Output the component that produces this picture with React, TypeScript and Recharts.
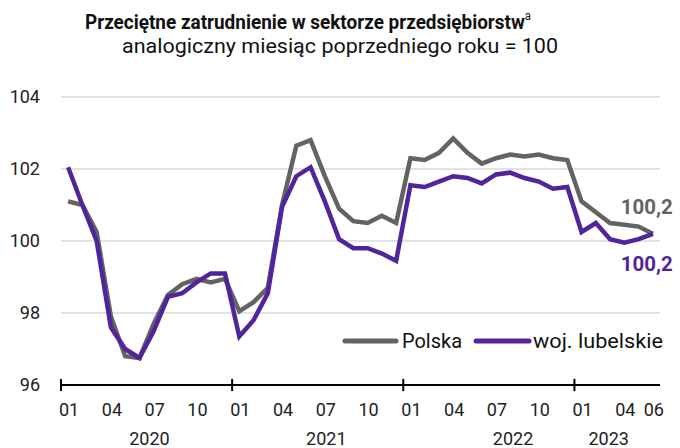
import * as React from "react";
import { CartesianGrid, Line, LineChart, ReferenceLine, XAxis, YAxis } from "recharts";

const periods = [
  "2020-01", "2020-02", "2020-03", "2020-04", "2020-05", "2020-06", "2020-07", "2020-08", "2020-09", "2020-10", "2020-11", "2020-12",
  "2021-01", "2021-02", "2021-03", "2021-04", "2021-05", "2021-06", "2021-07", "2021-08", "2021-09", "2021-10", "2021-11", "2021-12",
  "2022-01", "2022-02", "2022-03", "2022-04", "2022-05", "2022-06", "2022-07", "2022-08", "2022-09", "2022-10", "2022-11", "2022-12",
  "2023-01", "2023-02", "2023-03", "2023-04", "2023-05", "2023-06",
];

const polska = [
  101.1, 101.0, 100.25, 97.9, 96.8, 96.75, 97.7, 98.5, 98.8, 98.95, 98.85, 98.95,
  98.05, 98.3, 98.7, 101.0, 102.65, 102.8, 101.8, 100.9, 100.55, 100.5, 100.7, 100.5,
  102.3, 102.25, 102.45, 102.85, 102.45, 102.15, 102.3, 102.4, 102.35, 102.4, 102.3, 102.25,
  101.1, 100.8, 100.5, 100.45, 100.4, 100.2,
];

const lubelskie = [
  102.05, 101.0, 100.0, 97.6, 97.0, 96.75, 97.5, 98.45, 98.55, 98.85, 99.1, 99.1,
  97.35, 97.8, 98.55, 100.95, 101.8, 102.05, 101.1, 100.05, 99.8, 99.8, 99.65, 99.45,
  101.55, 101.5, 101.65, 101.8, 101.75, 101.6, 101.85, 101.9, 101.75, 101.65, 101.45, 101.5,
  100.25, 100.5, 100.05, 99.95, 100.05, 100.2,
];

const seriesNames = ["Polska", "woj. lubelskie"];
const years = ["2020", "2021", "2022", "2023"];
const yearLabelAt = [5.7, 18.1, 31.2, 37.9];
const yearBounds = [-0.5, 11.5, 23.5, 35.5];
const xTicks = [0, 3, 6, 9, 12, 15, 18, 21, 24, 27, 30, 33, 36, 39, 41];
const yTicks = [96, 98, 100, 102, 104];

const GRAY = "#636363";
const PURPLE = "#52249B";
const FONT = "Roboto, 'Noto Sans', sans-serif";

const data = periods.map((p, i) => ({ i, period: p, polska: polska[i], lubelskie: lubelskie[i] }));

function endLabel(color: string, dy: number) {
  return (props: any) => {
    if (props.index !== data.length - 1) return null;
    return (
      <text
        x={props.x + 20}
        y={props.y + dy}
        textAnchor="end"
        fill={color}
        fontFamily={FONT}
        fontWeight={700}
        fontSize={20}
        textLength={52}
        lengthAdjust="spacingAndGlyphs"
      >
        {Number(props.value).toFixed(1).replace(".", ",")}
      </text>
    );
  };
}

export default function App() {
  return (
    <div style={{ position: "absolute", left: 0, top: 0, width: 680, height: 448, background: "#fff", fontFamily: FONT }}>
      <LineChart
        width={680}
        height={448}
        data={data}
        margin={{ top: 97, right: 20, bottom: 0, left: 0 }}
      >
        <CartesianGrid horizontal vertical={false} stroke="#d9d9d9" strokeWidth={1.5} />
        <YAxis
          domain={[96, 104]}
          ticks={yTicks}
          width={61}
          axisLine={false}
          tickLine={false}
          tick={(p: any) => (
            <text x={40} y={p.y + 6} textAnchor="end" fontFamily={FONT} fontSize={18} fill="#222">
              {p.payload.value}
            </text>
          )}
        />
        <XAxis
          dataKey="i"
          type="number"
          domain={[-0.5, 41.5]}
          ticks={xTicks}
          interval={0}
          height={63}
          tickSize={0}
          tickMargin={0}
          axisLine={{ stroke: "#000", strokeWidth: 2 }}
          tickLine={false}
          tick={(p: any) => (
            <text x={p.x + 1} y={p.y + 31} textAnchor="middle" fontFamily={FONT} fontSize={18} fill="#222">
              {periods[p.payload.value].slice(5)}
            </text>
          )}
        />
        {yearBounds.map((b) => (
          <ReferenceLine
            key={b}
            segment={[{ x: b, y: 95.83 }, { x: b, y: 96.17 }]}
            stroke="#000"
            strokeWidth={2}
            ifOverflow="visible"
          />
        ))}
        {years.map((y, k) => (
          <ReferenceLine
            key={y}
            x={yearLabelAt[k]}
            stroke="none"
            ifOverflow="visible"
            label={(p: any) => (
              <text
                x={p.viewBox.x}
                y={p.viewBox.y + p.viewBox.height + 60}
                textAnchor="middle"
                fontFamily={FONT}
                fontSize={18}
                fill="#222"
              >
                {y}
              </text>
            )}
          />
        ))}
        <Line
          dataKey="polska"
          name={seriesNames[0]}
          stroke={GRAY}
          strokeWidth={4.5}
          dot={false}
          isAnimationActive={false}
          label={endLabel(GRAY, -20)}
        />
        <Line
          dataKey="lubelskie"
          name={seriesNames[1]}
          stroke={PURPLE}
          strokeWidth={4.5}
          dot={false}
          isAnimationActive={false}
          label={endLabel(PURPLE, 37)}
        />
      </LineChart>
      <svg width={680} height={448} style={{ position: "absolute", left: 0, top: 0, pointerEvents: "none" }}>
        <text x={85} y={29} fontFamily={FONT} fontWeight={700} fontSize={20} fill="#111" textLength={446} lengthAdjust="spacingAndGlyphs">
          Przeciętne zatrudnienie w sektorze przedsiębiorstw
          <tspan fontSize={12} fontWeight={400} dy={-9}>a</tspan>
        </text>
        <text x={340} y={53} textAnchor="middle" fontFamily={FONT} fontSize={20} fill="#111" textLength={436} lengthAdjust="spacingAndGlyphs">
          analogiczny miesiąc poprzedniego roku = 100
        </text>
        <line x1={345} x2={396} y1={341} y2={341} stroke={GRAY} strokeWidth={5} strokeLinecap="round" />
        <text x={402} y={348} fontFamily={FONT} fontSize={20} fill="#111" textLength={60} lengthAdjust="spacingAndGlyphs">
          {seriesNames[0]}
        </text>
        <line x1={476} x2={529} y1={341} y2={341} stroke={PURPLE} strokeWidth={5} strokeLinecap="round" />
        <text x={533} y={348} fontFamily={FONT} fontSize={20} fill="#111" textLength={130} lengthAdjust="spacingAndGlyphs">
          {seriesNames[1]}
        </text>
      </svg>
    </div>
  );
}
